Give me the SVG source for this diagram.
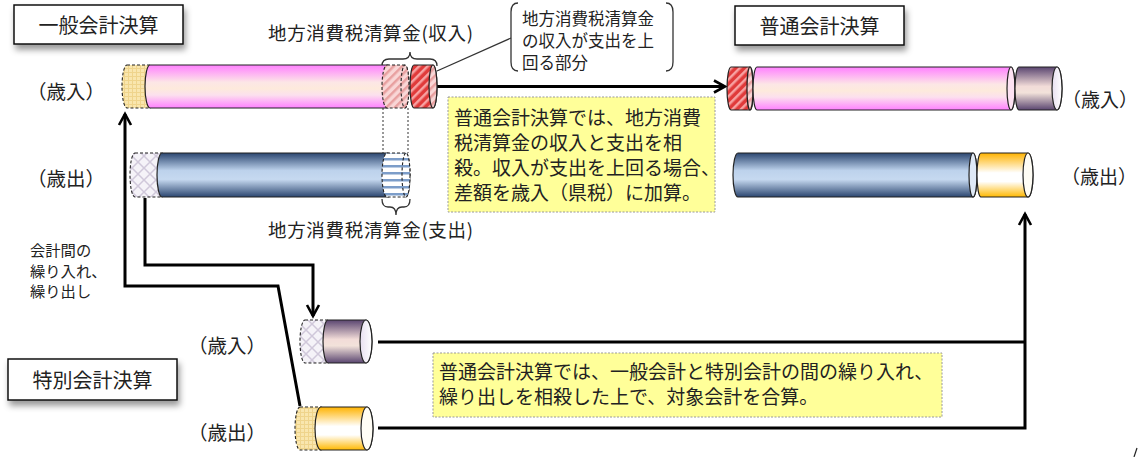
<svg xmlns="http://www.w3.org/2000/svg" width="1139" height="457" viewBox="0 0 1139 457">
<style>
text{font-family:"Noto Sans CJK JP","Noto Sans",sans-serif;fill:#222;}
.box{fill:#fff;stroke:#111;stroke-width:1.5;filter:url(#sh);}
.note{fill:#ffff99;stroke:#999;stroke-width:1;stroke-dasharray:2 1.5;}
.sol{stroke:#222;stroke-width:1.2;}
.dsh{stroke:#222;stroke-width:1.1;stroke-dasharray:3 2;}
.con{fill:none;stroke:#000;stroke-width:3;}
.thin{fill:none;stroke:#333;stroke-width:1.3;}
.dot{fill:none;stroke:#333;stroke-width:1;stroke-dasharray:2 2;}
</style>
<defs>
<filter id="sh" x="-10%" y="-20%" width="130%" height="180%"><feDropShadow dx="2" dy="5" stdDeviation="3" flood-color="#000" flood-opacity="0.4"/></filter>
<linearGradient id="gPink" x1="0" y1="0" x2="0" y2="1"><stop offset="0" stop-color="#ff80ff"/><stop offset="0.4" stop-color="#fce6e6"/><stop offset="0.55" stop-color="#fdeadc"/><stop offset="0.7" stop-color="#fce0ee"/><stop offset="1" stop-color="#ff80ff"/></linearGradient>
<linearGradient id="gBlue" x1="0" y1="0" x2="0" y2="1"><stop offset="0" stop-color="#2b4670"/><stop offset="0.4" stop-color="#bdd2ec"/><stop offset="0.6" stop-color="#c6d9f0"/><stop offset="1" stop-color="#2b4670"/></linearGradient>
<linearGradient id="gPurple" x1="0" y1="0" x2="0" y2="1"><stop offset="0" stop-color="#5a4570"/><stop offset="0.45" stop-color="#f2dcd8"/><stop offset="0.6" stop-color="#f2e2da"/><stop offset="1" stop-color="#5a4570"/></linearGradient>
<linearGradient id="gOrange" x1="0" y1="0" x2="0" y2="1"><stop offset="0" stop-color="#ffb300"/><stop offset="0.45" stop-color="#ffffff"/><stop offset="0.65" stop-color="#ffffff"/><stop offset="1" stop-color="#ffb800"/></linearGradient>
<linearGradient id="gCap" x1="0" y1="0" x2="1" y2="0"><stop offset="0" stop-color="#e8dff0"/><stop offset="1" stop-color="#ffffff"/></linearGradient>
<pattern id="pYellow" width="4" height="4" patternUnits="userSpaceOnUse"><rect width="4" height="4" fill="#f9e6ae"/><path d="M0,0.5H4M0.5,0V4" stroke="#efd48c" stroke-width="1"/></pattern>
<pattern id="pCross" width="12" height="12" patternUnits="userSpaceOnUse"><rect width="12" height="12" fill="#f5f3f8"/><path d="M0,0L12,12M12,0L0,12" stroke="#d0c8da" stroke-width="1.5"/></pattern>
<pattern id="pLight" width="6" height="6" patternUnits="userSpaceOnUse" patternTransform="rotate(45)"><rect width="6" height="6" fill="#f9d6d6"/><rect width="2.5" height="6" fill="#e8a0a0"/></pattern>
<pattern id="pRed" width="6" height="6" patternUnits="userSpaceOnUse" patternTransform="rotate(45)"><rect width="6" height="6" fill="#e03a3a"/><rect width="2.5" height="6" fill="#f7a2a2"/></pattern>
<pattern id="pStripe" width="7" height="7" patternUnits="userSpaceOnUse"><rect width="7" height="7" fill="#fff"/><rect y="4" width="7" height="2.5" fill="#7c9dc9"/></pattern>
<marker id="ah" viewBox="0 0 12 12" refX="11" refY="6" markerWidth="12" markerHeight="12" markerUnits="userSpaceOnUse" orient="auto" overflow="visible"><path d="M0,0L11,6L0,12" fill="none" stroke="#000" stroke-width="2.6"/></marker>
</defs>

<!-- Title boxes -->
<g id="box-general">
<rect class="box" x="14" y="5" width="169" height="39"/>
<text x="98.5" y="33" font-size="20" text-anchor="middle">一般会計決算</text>
</g>
<g id="box-ordinary">
<rect class="box" x="735" y="6" width="169" height="39"/>
<text x="819.5" y="34" font-size="20" text-anchor="middle">普通会計決算</text>
</g>
<g id="box-special">
<rect class="box" x="8" y="359" width="169" height="41"/>
<text x="92.5" y="388" font-size="20" text-anchor="middle">特別会計決算</text>
</g>

<!-- Connectors -->
<g id="connectors">
<path class="con" d="M437,86.5H725" marker-end="url(#ah)"/>
<path class="con" d="M300,406L278,286H125V114" marker-end="url(#ah)"/>
<path class="con" d="M145,198V265H313V316" marker-end="url(#ah)"/>
<path class="con" d="M378,342H1025"/>
<path class="con" d="M378,428H1025V214" marker-end="url(#ah)"/>
<path class="thin" d="M437,71L511,38"/>
<path class="dot" d="M383,108V153M408,108V153"/>
<path class="thin" d="M382,66Q382,59 389,59H403Q410,59 410,52Q410,59 417,59H430Q437,59 437,66"/>
<path class="thin" d="M382,199Q382,207 388,207H390Q396,207 396,215Q396,207 402,207H404Q410,207 410,199"/>
</g>

<!-- General account revenue -->
<g id="gen-revenue">
<path class="dsh" fill="url(#pYellow)" d="M127,65H150A5,21.5 0 0 1 150,108H127A5,21.5 0 0 1 127,65Z"/>
<path class="sol" fill="url(#gPink)" d="M150,65H388A5,21.5 0 0 1 388,108H150A5,21.5 0 0 1 150,65Z"/>
<path class="dsh" fill="url(#pLight)" d="M387,65H405A4,21.5 0 0 1 405,108H387A5,21.5 0 0 1 387,65Z"/>
<ellipse class="dsh" fill="url(#pLight)" cx="405" cy="86.5" rx="4" ry="21.5"/>
<path class="sol" fill="url(#pRed)" d="M414,65H433A4,21.5 0 0 1 433,108H414A4,21.5 0 0 1 414,65Z"/>
<ellipse class="sol" fill="url(#pLight)" cx="433" cy="86.5" rx="4" ry="21.5"/>
</g>

<!-- General account expenditure -->
<g id="gen-expenditure">
<path class="dsh" fill="url(#pCross)" d="M135,153H162A5,22 0 0 1 162,197H135A5,22 0 0 1 135,153Z"/>
<path class="sol" fill="url(#gBlue)" d="M162,153H388A5,22 0 0 1 388,197H162A5,22 0 0 1 162,153Z"/>
<path class="dsh" fill="url(#pStripe)" d="M387,153H406A4,22 0 0 1 406,197H387A5,22 0 0 1 387,153Z"/>
<ellipse class="dsh" fill="url(#pStripe)" cx="406" cy="175" rx="4" ry="22"/>
</g>

<!-- Ordinary account revenue -->
<g id="ord-revenue">
<path class="sol" fill="url(#pRed)" d="M731,67H750A3,21.5 0 0 1 750,110H731A4,21.5 0 0 1 731,67Z"/>
<ellipse class="sol" fill="url(#pLight)" cx="750" cy="88.5" rx="3" ry="21.5"/>
<path class="sol" fill="url(#gPink)" d="M757,67H1011A4,21.5 0 0 1 1011,110H757A4,21.5 0 0 1 757,67Z"/>
<ellipse class="sol" fill="#fde2f2" cx="1011" cy="88.5" rx="4" ry="21.5"/>
<path class="sol" fill="url(#gPurple)" d="M1019,67H1057A5,21.5 0 0 1 1057,110H1019A4,21.5 0 0 1 1019,67Z"/>
<ellipse class="sol" fill="url(#gCap)" cx="1057" cy="88.5" rx="5" ry="21.5"/>
</g>

<!-- Ordinary account expenditure -->
<g id="ord-expenditure">
<path class="sol" fill="url(#gBlue)" d="M738,153H973A4,22 0 0 1 973,197H738A5,22 0 0 1 738,153Z"/>
<ellipse class="sol" fill="#dfe9f6" cx="973" cy="175" rx="4" ry="22"/>
<path class="sol" fill="url(#gOrange)" d="M981,153H1028A5,22 0 0 1 1028,197H981A4,22 0 0 1 981,153Z"/>
<ellipse class="sol" fill="#fffdf5" cx="1028" cy="175" rx="5" ry="22"/>
</g>

<!-- Special account revenue -->
<g id="sp-revenue">
<path class="dsh" fill="url(#pCross)" d="M305,320H328A5,21.5 0 0 1 328,363H305A5,21.5 0 0 1 305,320Z"/>
<path class="sol" fill="url(#gPurple)" d="M328,320H366A6,21.5 0 0 1 366,363H328A5,21.5 0 0 1 328,320Z"/>
<ellipse class="sol" fill="url(#gCap)" cx="366" cy="341.5" rx="6" ry="21.5"/>
</g>

<!-- Special account expenditure -->
<g id="sp-expenditure">
<path class="dsh" fill="url(#pYellow)" d="M300,407H321A5,21.5 0 0 1 321,450H300A5,21.5 0 0 1 300,407Z"/>
<path class="sol" fill="url(#gOrange)" d="M321,407H367A6,21.5 0 0 1 367,450H321A6,21.5 0 0 1 321,407Z"/>
<ellipse class="sol" fill="#fffdf5" cx="367" cy="428.5" rx="6" ry="21.5"/>
</g>

<!-- Labels -->
<g id="labels">
<text x="66" y="99" font-size="19.5" text-anchor="middle">（歳入）</text>
<text x="66" y="186" font-size="19.5" text-anchor="middle">（歳出）</text>
<text x="1138" y="107" font-size="19" text-anchor="end">（歳入）</text>
<text x="1137" y="184" font-size="19" text-anchor="end">（歳出）</text>
<text x="227" y="353" font-size="19.5" text-anchor="middle">（歳入）</text>
<text x="227" y="440" font-size="19.5" text-anchor="middle">（歳出）</text>
<text x="30" y="256" font-size="15.3">会計間の</text>
<text x="30" y="276.5" font-size="15.3">繰り入れ、</text>
<text x="30" y="297" font-size="15.3">繰り出し</text>
<text x="268" y="40" font-size="18.5" textLength="205">地方消費税清算金(収入)</text>
<text x="268" y="237" font-size="18.5" textLength="205">地方消費税清算金(支出)</text>
</g>

<!-- Callout -->
<g id="callout">
<path class="thin" d="M518,3Q511,3 511,12V62Q511,71 518,71"/>
<path class="thin" d="M666,3Q673,3 673,12V62Q673,71 666,71"/>
<text font-size="16.5"><tspan x="522" y="25">地方消費税清算金</tspan><tspan x="522" y="47">の収入が支出を上</tspan><tspan x="522" y="69">回る部分</tspan></text>
</g>

<!-- Notes -->
<g id="note1">
<rect class="note" x="448" y="97" width="267" height="115"/>
<text font-size="19"><tspan x="454" y="125">普通会計決算では、地方消費</tspan><tspan x="454" y="150">税清算金の収入と支出を相</tspan><tspan x="454" y="175">殺。収入が支出を上回る場合、</tspan><tspan x="454" y="200">差額を歳入（県税）に加算。</tspan></text>
</g>
<g id="note2">
<rect class="note" x="433" y="353" width="509" height="64"/>
<text font-size="19"><tspan x="439" y="379">普通会計決算では、一般会計と特別会計の間の繰り入れ、</tspan><tspan x="439" y="404">繰り出しを相殺した上で、対象会計を合算。</tspan></text>
</g>
<path d="M1134,457L1137,448" stroke="#222" stroke-width="1.2" fill="none"/>
</svg>
